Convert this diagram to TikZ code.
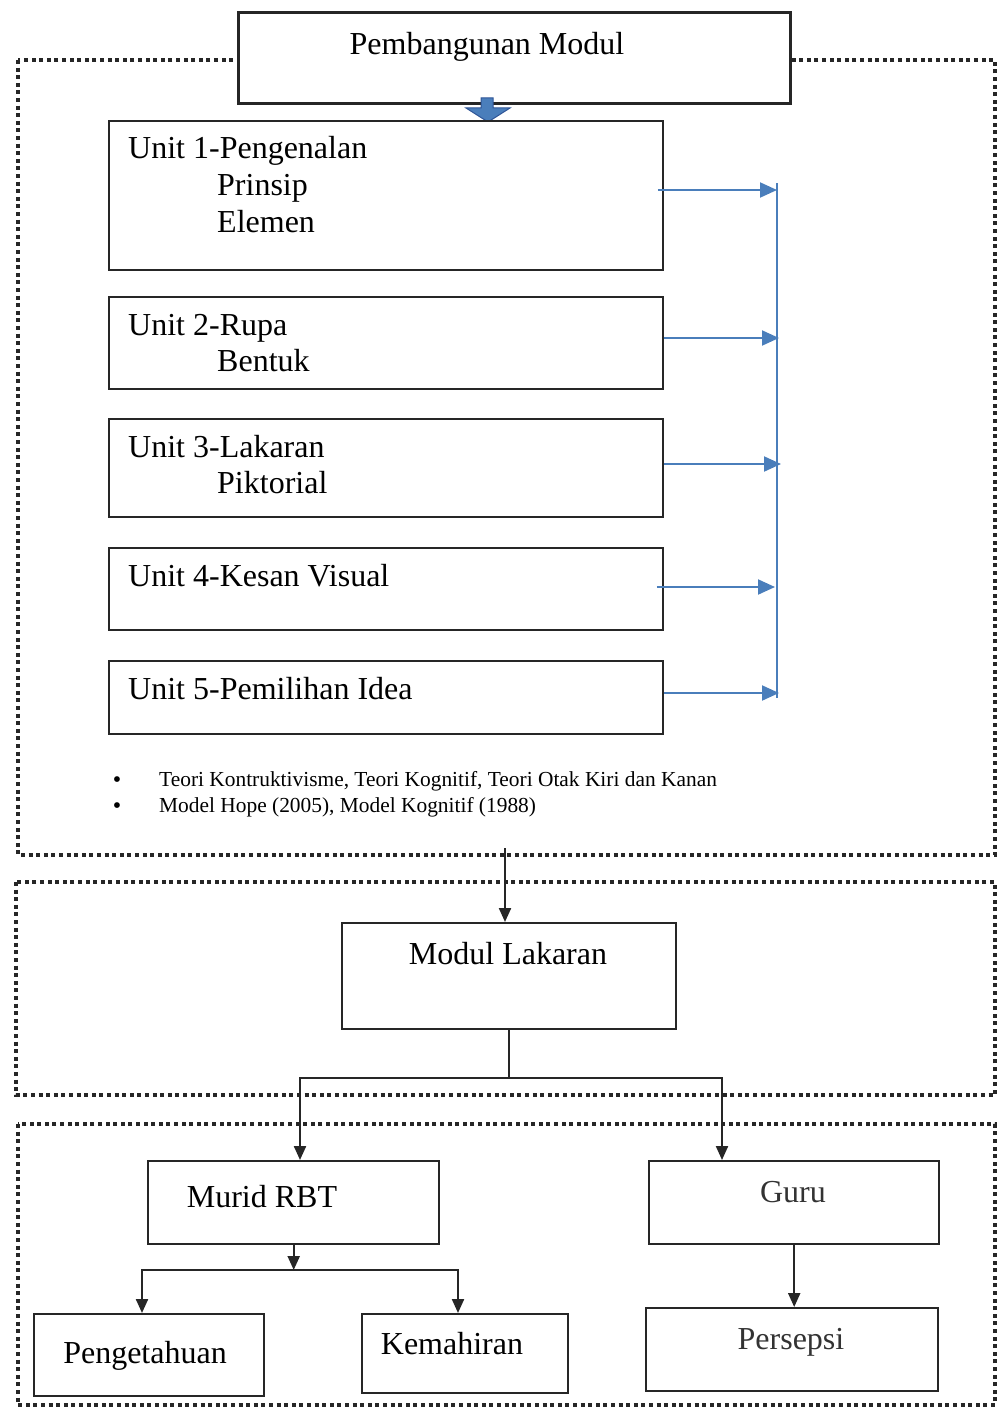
\documentclass[tikz,border=0pt]{standalone}
\usepackage{fontspec}
\setmainfont{Liberation Serif}
\usetikzlibrary{arrows.meta}
\definecolor{bl}{RGB}{74,126,187}
\definecolor{bldark}{RGB}{47,85,151}
\begin{document}
\begin{tikzpicture}[x=1pt,y=-1pt,
 frame/.style={line width=4.5pt, dash pattern=on 4pt off 3.6pt, black!85},
 box/.style={draw=black!85, line width=1.8pt, fill=white, inner sep=0pt, anchor=north west},
 big/.style={font=\fontsize{32}{37}\selectfont, inner sep=0pt},
 small/.style={font=\fontsize{21.4}{26}\selectfont, inner sep=0pt},
 bulletstyle/.style={font=\fontsize{24}{24}\selectfont, inner sep=0pt, anchor=base},
 bluearrow/.style={draw=bl, line width=2pt, -{Triangle[length=17pt,width=15pt]}},
 blackarrow/.style={draw=black!85, line width=2.2pt, -{Triangle[length=14pt,width=12pt]}},
 link/.style={draw=black!85, line width=2.2pt}]
\useasboundingbox (0,0) rectangle (998,1410);
% dotted frames
\draw[frame] (18,60) rectangle (995,855);
\draw[frame] (16,882) rectangle (995,1095);
\draw[frame] (18,1124) rectangle (995,1405);
% top box
\node[box, line width=2.8pt, minimum width=552pt, minimum height=91pt] (top) at (237,11) {};
\node[big, anchor=base] (toptxt) at (487,55) {Pembangunan Modul};
% block arrow
\filldraw[fill=bl, draw=bldark, line width=1pt] (481,98) -- (493,98) -- (493,108) -- (510,108) -- (488,122) -- (466,108) -- (481,108) -- cycle;
% unit boxes
\node[box, minimum width=554pt, minimum height=149pt] (u1) at (108,120) {};
\node[box, minimum width=554pt, minimum height=92pt] (u2) at (108,296) {};
\node[box, minimum width=554pt, minimum height=98pt] (u3) at (108,418) {};
\node[box, minimum width=554pt, minimum height=82pt] (u4) at (108,547) {};
\node[box, minimum width=554pt, minimum height=73pt] (u5) at (108,660) {};
\node[big, anchor=base west] (u1a) at (128,158) {Unit 1-Pengenalan};
\node[big, anchor=base west] (u1b) at (217,195) {Prinsip};
\node[big, anchor=base west] (u1c) at (217,232) {Elemen};
\node[big, anchor=base west] (u2a) at (128,335) {Unit 2-Rupa};
\node[big, anchor=base west] (u2b) at (217,371) {Bentuk};
\node[big, anchor=base west] (u3a) at (128,457) {Unit 3-Lakaran};
\node[big, anchor=base west] (u3b) at (217,493) {Piktorial};
\node[big, anchor=base west] (u4a) at (128,586) {Unit 4-Kesan Visual};
\node[big, anchor=base west] (u5a) at (128,699) {Unit 5-Pemilihan Idea};
% blue bracket
\coordinate (bt) at (777,183);
\coordinate (bb) at (777,698);
\draw[bl, line width=2pt] (bt) -- (bb);
\coordinate (b1) at (777,190);
\coordinate (b2) at (779,338);
\coordinate (b3) at (781,464);
\coordinate (b4) at (775,587);
\coordinate (b5) at (779,693);
\draw[bluearrow] ([xshift=-6pt]u1.east |- b1) -- (b1);
\draw[bluearrow] (u2.east |- b2) -- (b2);
\draw[bluearrow] (u3.east |- b3) -- (b3);
\draw[bluearrow] ([xshift=-7pt]u4.east |- b4) -- (b4);
\draw[bluearrow] (u5.east |- b5) -- (b5);
% bullets
\node[bulletstyle] (bul1) at (117,787) {\textbullet};
\node[bulletstyle] (bul2) at (117,813) {\textbullet};
\node[small, anchor=base west] (t1) at (159,786) {Teori Kontruktivisme, Teori Kognitif, Teori Otak Kiri dan Kanan};
\node[small, anchor=base west] (t2) at (159,812) {Model Hope (2005), Model Kognitif (1988)};
% Modul Lakaran
\node[box, minimum width=334pt, minimum height=106pt] (ml) at (341,922) {};
\node[big, anchor=base] (mlt) at (508,964) {Modul Lakaran};
\coordinate (f1) at (505,848);
\draw[blackarrow] (f1) -- (f1 |- ml.north);
% lower boxes
\node[box, line width=2.4pt, minimum width=291pt, minimum height=83pt] (mr) at (147,1160) {};
\node[big, anchor=base] (mrt) at (262,1207) {Murid RBT};
\node[box, line width=2.4pt, minimum width=290pt, minimum height=83pt] (gu) at (648,1160) {};
\node[big, anchor=base, text=black!80] (gut) at (793,1202) {Guru};
\node[box, minimum width=230pt, minimum height=82pt] (pg) at (33,1313) {};
\node[big, anchor=base] (pgt) at (145,1363) {Pengetahuan};
\node[box, minimum width=206pt, minimum height=79pt] (km) at (361,1313) {};
\node[big, anchor=base] (kmt) at (452,1354) {Kemahiran};
\node[box, line width=2.4pt, minimum width=292pt, minimum height=83pt] (pe) at (645,1307) {};
\node[big, anchor=base, text=black!80] (pet) at (791,1349) {Persepsi};
% connectors
\coordinate (jL) at (300,1078);
\coordinate (jR) at (722,1078);
\draw[link] (ml.south) -- (ml.south |- jL);
\draw[blackarrow] (ml.south |- jL) -| (jL |- mr.north);
\draw[blackarrow] (ml.south |- jL) -| (jR |- gu.north);
\coordinate (kL) at (142,1270);
\coordinate (kR) at (458,1270);
\draw[blackarrow] (mr.south) -- (mr.south |- kL);
\draw[blackarrow] (mr.south |- kL) -| (kL |- pg.north);
\draw[blackarrow] (mr.south |- kL) -| (kR |- km.north);
\draw[blackarrow] (gu.south) -- (gu.south |- pe.north);
\end{tikzpicture}
\end{document}
